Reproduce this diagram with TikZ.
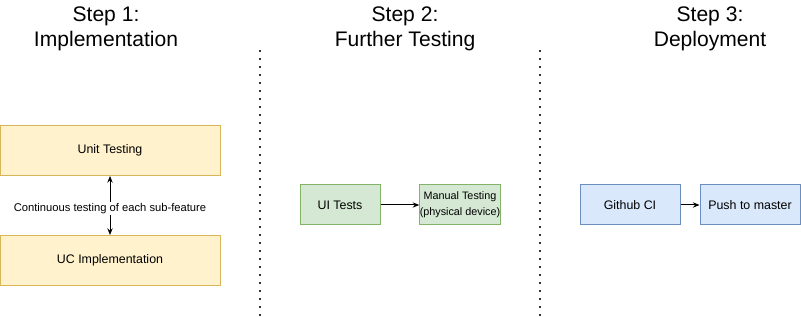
\documentclass[tikz,border=0pt]{standalone}
\usepackage{fontspec}
\setmainfont{Liberation Sans}
\usetikzlibrary{arrows.meta}

\tikzset{
  stage/.style={draw, line width=0.75pt, minimum width=165pt, minimum height=37.5pt, inner sep=0pt, font=\fontsize{9.3}{11}\selectfont},
  yellowbox/.style={stage, fill=yellowfill, draw=yellowline},
  greenbox/.style={stage, fill=greenfill, draw=greenline, minimum width=60pt, minimum height=30pt},
  bluebox/.style={stage, fill=bluefill, draw=blueline, minimum width=75pt, minimum height=30pt},
  heading/.style={align=center, font=\fontsize{15.8}{19}\selectfont},
  link/.style={-{Stealth[length=5pt,width=4pt]}, line width=0.75pt},
  divider/.style={line width=1.5pt, dash pattern=on 1.5pt off 4.5pt, draw=black!80},
}
\definecolor{yellowfill}{HTML}{FFF2CC}
\definecolor{yellowline}{HTML}{D6B656}
\definecolor{greenfill}{HTML}{D5E8D4}
\definecolor{greenline}{HTML}{82B366}
\definecolor{bluefill}{HTML}{DAE8FC}
\definecolor{blueline}{HTML}{6C8EBF}

\begin{document}
\begin{tikzpicture}[x=0.75pt,y=-0.75pt]
\useasboundingbox (0,0) rectangle (801,317);
\node[heading] (step1) at (106,29) {Step 1:\\Implementation};
\node[heading] (step2) at (405,29) {Step 2:\\Further Testing};
\node[heading] (step3) at (710,29) {Step 3:\\Deployment};
\coordinate (sepAtop) at (260,50);
\coordinate (sepAbot) at (260,316);
\coordinate (sepBtop) at (540,50);
\coordinate (sepBbot) at (540,316);
\draw[divider] (sepAtop) -- (sepAbot);
\draw[divider] (sepBtop) -- (sepBbot);
\node[yellowbox] (unit) at (110,150.5) {Unit Testing};
\node[yellowbox] (ucimpl) at (110,260.5) {UC Implementation};
\draw[link, {Stealth[length=5pt,width=4pt]}-{Stealth[length=5pt,width=4pt]}] (unit) -- node[fill=white, inner sep=1pt, yshift=-2.5pt, font=\fontsize{8.4}{10}\selectfont] {Continuous testing of each sub-feature} (ucimpl);
\node[greenbox] (uitests) at (340,205) {UI Tests};
\node[greenbox, align=center, font=\fontsize{8.1}{12}\selectfont] (manual) at (460,205) {Manual Testing\\(physical device)};
\draw[link] (uitests) -- (manual);
\node[bluebox] (githubci) at (630,205) {Github CI};
\node[bluebox] (push) at (750,205) {Push to master};
\draw[link] (githubci) -- (push);
\end{tikzpicture}
\end{document}
